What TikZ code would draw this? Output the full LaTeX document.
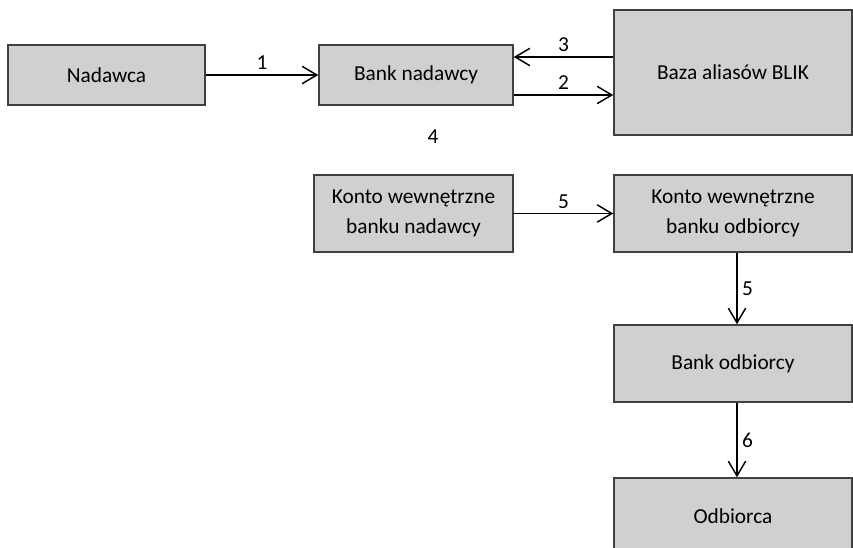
\documentclass[tikz,border=0pt]{standalone}
\usepackage{fontspec}
\setmainfont{Carlito}
\usetikzlibrary{arrows.meta}
\definecolor{boxfill}{RGB}{208,208,208}
\definecolor{boxline}{RGB}{64,64,64}
\tikzset{
  box/.style={draw=boxline,fill=boxfill,line width=1.1pt,inner sep=0pt,
    align=center,font=\fontsize{16}{22.5}\selectfont},
  flow/.style={line width=1.1pt,
    -{Straight Barb[length=11pt,width=13pt,line width=1.1pt]}},
  num/.style={font=\fontsize{16}{20}\selectfont},
}

\begin{document}
\begin{tikzpicture}[x=0.75pt,y=-0.75pt]
      \useasboundingbox (0,0) rectangle (853,548);
      \node[box,minimum width=147.75pt,minimum height=45pt] (nadawca) at (106.5,75) {Nadawca};
      \node[box,minimum width=145.5pt,minimum height=45pt] (banknad) at (416,75) {Bank nadawcy};
      \node[box,minimum width=178.5pt,minimum height=93.75pt] (baza) at (733,72.5) {Baza aliasów BLIK};
      \node[num] (krok4) at (433,137) {4};
      \node[box,minimum width=149.25pt,minimum height=57.75pt] (kontonad) at (413.5,213.5) {Konto wewnętrzne\\banku nadawcy};
      \node[box,minimum width=178.5pt,minimum height=57.75pt] (kontoodb) at (733,213.5) {Konto wewnętrzne\\banku odbiorcy};
      \node[box,minimum width=178.5pt,minimum height=57.75pt] (bankodb) at (733,363.5) {Bank odbiorcy};
      \node[box,minimum width=178.5pt,minimum height=57.75pt] (odbiorca) at (733,516.5) {Odbiorca};

      \coordinate (p3) at ([yshift=13.5pt]banknad.east);
      \coordinate (p2) at ([yshift=-15pt]banknad.east);

      \draw[flow] (nadawca) -- node[num,above] {1} (banknad);
      \draw[flow] (p3 -| baza.west) -- node[num,above] {3} (p3);
      \draw[flow] (p2) -- node[num,above] {2} (p2 -| baza.west);
      \draw[flow] (kontonad) -- node[num,above] {5} (kontoodb);
      \draw[flow] ([xshift=3pt]kontoodb.south) -- node[num,right] {5} ([xshift=3pt]bankodb.north);
      \draw[flow] ([xshift=3pt]bankodb.south) -- node[num,right] {6} ([xshift=3pt]odbiorca.north);
\end{tikzpicture}
\end{document}
